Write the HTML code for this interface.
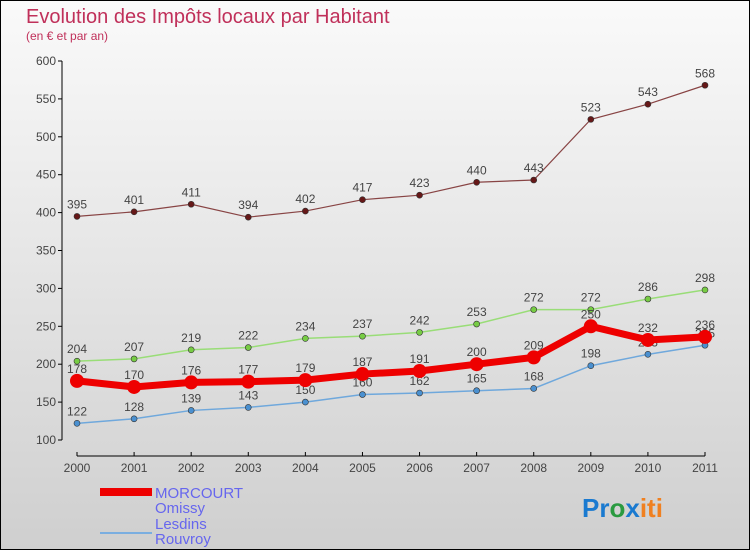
<!DOCTYPE html>
<html><head><meta charset="utf-8"><style>
body{margin:0;}
#c{width:750px;height:550px;position:relative;}
svg{font-family:"Liberation Sans",sans-serif;}
</style></head><body>
<div id="c">
<svg id="s" width="750" height="550" xmlns="http://www.w3.org/2000/svg">
<defs><linearGradient id="bg" x1="0" y1="0" x2="0" y2="1"><stop offset="0" stop-color="#fafafa"/><stop offset="1" stop-color="#cfcfcf"/></linearGradient></defs>
<rect x="0.5" y="0.5" width="749" height="549" fill="url(#bg)" stroke="#000"/>
<text x="26" y="23" font-size="20" fill="#c0305a">Evolution des Impôts locaux par Habitant</text>
<text x="26" y="40" font-size="12" fill="#c0305a">(en € et par an)</text>
<g id="axes"></g><g id="series"></g>
<g>
<rect x="100" y="488" width="52" height="8" fill="#e00"/>
<text x="155" y="498" font-size="15" fill="#6666ee">MORCOURT</text>
<line x1="100" y1="533" x2="152" y2="533" stroke="#7aaee0" stroke-width="2"/>
<text x="155" y="513" font-size="15" fill="#6666ee">Omissy</text>
<line x1="100" y1="553" x2="152" y2="553" stroke="#99dd77" stroke-width="2"/>
<text x="155" y="529" font-size="15" fill="#6666ee">Lesdins</text>
<line x1="100" y1="572" x2="152" y2="572" stroke="#996666" stroke-width="2"/>
<text x="155" y="544" font-size="15" fill="#6666ee">Rouvroy</text>
</g>
<text x="582" y="517" font-size="26" font-weight="bold"><tspan fill="#1a7ad0">Pr</tspan><tspan fill="#2a9a40">o</tspan><tspan fill="#1a7ad0">x</tspan><tspan fill="#f08020">iti</tspan></text>
</svg></div>
<script>
const years=["2000","2001","2002","2003","2004","2005","2006","2007","2008","2009","2010","2011"];
const yTicks=[100,150,200,250,300,350,400,450,500,550,600];
const morcourt=[178,170,176,177,179,187,191,200,209,250,232,236];
const omissy=[122,128,139,143,150,160,162,165,168,198,213,225];
const lesdins=[204,207,219,222,234,237,242,253,272,272,286,298];
const rouvroy=[395,401,411,394,402,417,423,440,443,523,543,568];
const NS="http://www.w3.org/2000/svg";
function X(i){return 77+i*(705-77)/11;}
function Y(v){return 440-(v-100)*(379/500);}
function mk(t,a,p){const e=document.createElementNS(NS,t);for(const k in a)e.setAttribute(k,a[k]);p.appendChild(e);return e;}
const ax=document.getElementById('axes');
const ya=mk('line',{x1:62,y1:61,x2:62,y2:440,stroke:'#000'},ax);


yTicks.forEach(v=>{
 const t=mk('line',{x1:58,y1:Y(v),x2:62,y2:Y(v),stroke:'#000'},ax);
 
 
 const l=mk('text',{x:56,y:Y(v)+4,'font-size':12,fill:'#444','text-anchor':'end'},ax);
 l.textContent=v;
 
 
});
const xa=mk('line',{x1:X(0),y1:456,x2:X(11),y2:456,stroke:'#000'},ax);


years.forEach((y,i)=>{
 const t=mk('line',{x1:X(i),y1:452,x2:X(i),y2:456,stroke:'#000'},ax);
 
 
 const l=mk('text',{x:X(i),y:472,'font-size':12,fill:'#444','text-anchor':'middle'},ax);
 l.textContent=y;
 
 
});
const sg=document.getElementById('series');
function series(name,data,color,w,r,dot){
 const g=mk('g',{},sg);
 
 
 const pl=mk('polyline',{points:data.map((v,i)=>X(i)+','+Y(v)).join(' '),fill:'none',stroke:color,'stroke-width':w},g);
 
 
 data.forEach((v,i)=>{
  const c=mk('circle',{cx:X(i),cy:Y(v),r:r,fill:dot,stroke:'#333','stroke-width':r>4?0:0.6},g);
  
  
  const l=mk('text',{x:X(i),y:Y(v)-8,'font-size':12,fill:'#444','text-anchor':'middle'},g);
  l.textContent=v;
  
  
 });
}
series('rouvroy',rouvroy,'#884444',1.2,3,'#661818');
series('lesdins',lesdins,'#99dd77',1.5,3,'#77cc44');
series('omissy',omissy,'#6fa8dc',1.5,3,'#4a90d0');
series('morcourt',morcourt,'#ee0000',7,7,'#ee0000');
</script>
</body></html>
